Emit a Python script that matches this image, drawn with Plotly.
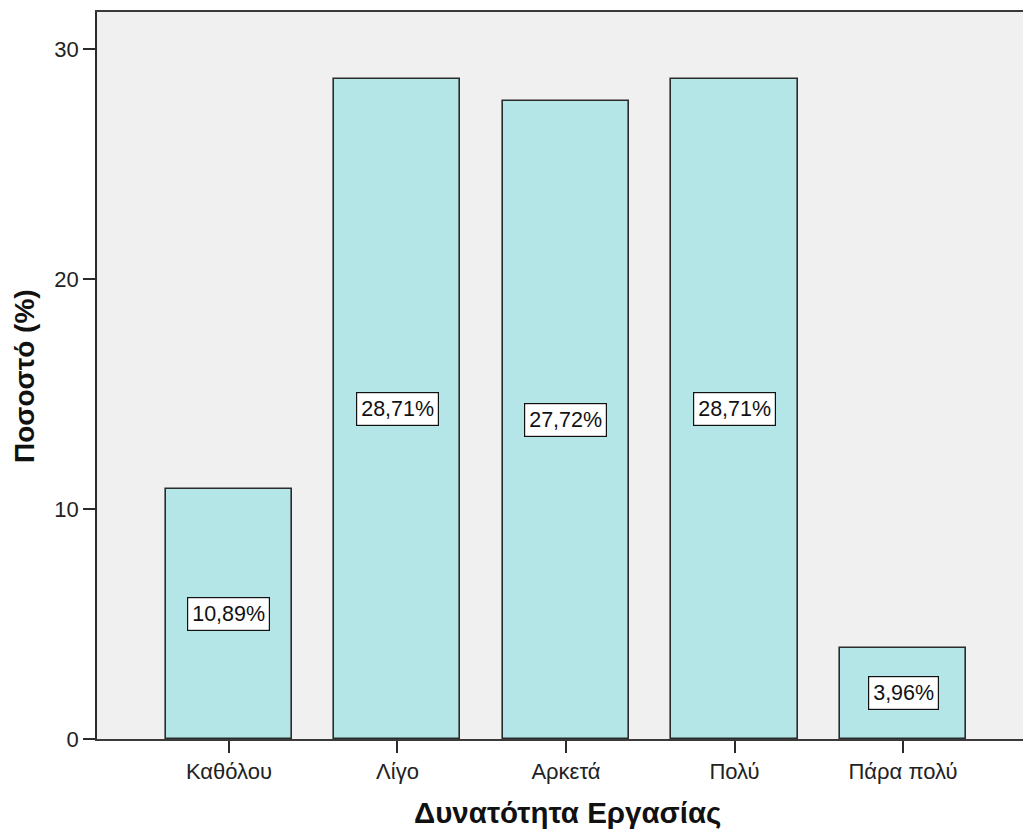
import plotly.graph_objects as go

# Ποσοστό ανά κατηγορία δυνατότητας εργασίας
categories = ["Καθόλου", "Λίγο", "Αρκετά", "Πολύ", "Πάρα πολύ"]
percentages = [10.89, 28.71, 27.72, 28.71, 3.96]
y_ticks = [0, 10, 20, 30]

bar_fill = "#b4e6e7"
edge = "#2b2b2b"
font_family = "Liberation Sans, Arial, sans-serif"

fig = go.Figure()
fig.add_trace(go.Bar(
    x=categories,
    y=percentages,
    width=0.748,
    marker=dict(color=bar_fill, line=dict(color=edge, width=1.6)),
    hoverinfo="skip",
))

# value labels boxed in the middle of each bar
for cat, val in zip(categories, percentages):
    fig.add_annotation(
        x=cat, y=val / 2, xref="x", yref="y",
        text=f"{val:.2f}".replace(".", ",") + "%",
        showarrow=False,
        font=dict(family=font_family, size=21.5, color="#111111"),
        bgcolor="white", bordercolor="#111111", borderwidth=1.2, borderpad=4,
    )

# plot area in pixels: left 97, right 1023, top 12, bottom 739
plot_w = 1023 - 97
plot_h = 739 - 12

# axis titles
fig.add_annotation(
    x=(567 - 97) / plot_w, y=-(812 - 739) / plot_h, xref="paper", yref="paper",
    xanchor="center", yanchor="middle",
    text="<b>Δυνατότητα Εργασίας</b>", showarrow=False,
    font=dict(family=font_family, size=29.5, color="#111111"),
)
fig.add_annotation(
    x=(24 - 97) / plot_w, y=(739 - 376) / plot_h, xref="paper", yref="paper",
    xanchor="center", yanchor="middle",
    text="<b>Ποσοστό (%)</b>", textangle=-90, showarrow=False,
    font=dict(family=font_family, size=28, color="#111111"),
)

fig.update_layout(
    width=1023, height=832,
    margin=dict(l=97, r=0, t=12, b=93),
    paper_bgcolor="white",
    plot_bgcolor="#f0f0f0",
    showlegend=False,
    bargap=0,
    font=dict(family=font_family, size=22, color="#222222"),
)

fig.update_xaxes(
    type="category",
    range=[-0.783, 4.712],
    showline=True, linecolor="#3a3a3a", linewidth=2, mirror=True,
    ticks="outside", ticklen=12, tickwidth=1.5, tickcolor="#2b2b2b",
    tickfont=dict(family=font_family, size=22, color="#222222"),
    showgrid=False, zeroline=False,
)
fig.update_yaxes(
    range=[0, 31.61],
    tickvals=y_ticks,
    showline=True, linecolor="#2b2b2b", linewidth=1.6,
    ticks="outside", ticklen=12, tickwidth=1.5, tickcolor="#2b2b2b",
    tickfont=dict(family=font_family, size=22, color="#222222"),
    showgrid=False, zeroline=False,
)

fig.write_html("out.html")
